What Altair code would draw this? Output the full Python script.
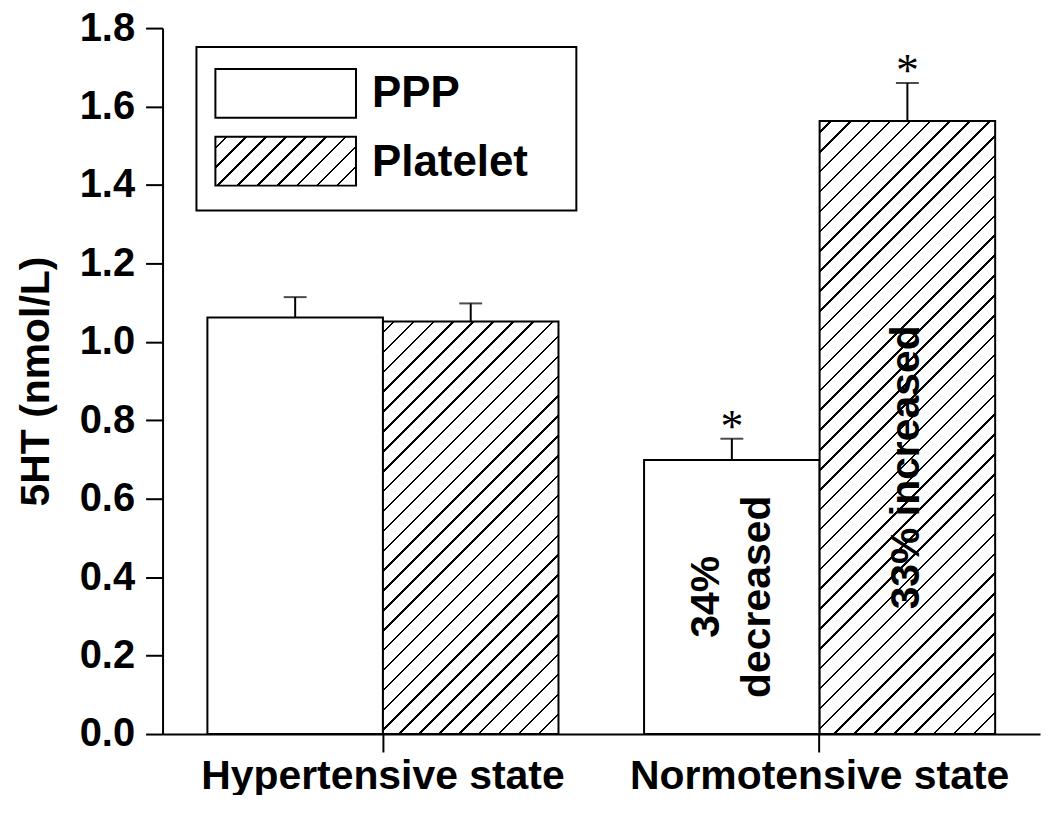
import math
import altair as alt
import pandas as pd

# ---- data ----
categories = ["Hypertensive state", "Normotensive state"]
series_names = ["PPP", "Platelet"]
ppp_mean = [1.062, 0.699]
ppp_err = [0.052, 0.054]
plat_mean = [1.052, 1.563]
plat_err = [0.046, 0.097]
ppp_star = ["", "*"]
plat_star = ["", "*"]
y_ticks = [0.0, 0.1, 0.2, 0.3, 0.4, 0.5, 0.6, 0.7, 0.8, 0.9, 1.0,
           1.1, 1.2, 1.3, 1.4, 1.5, 1.6, 1.7, 1.8]
annot_text = ["34%\ndecreased", "33% increased"]
annot_series = ["PPP", "Platelet"]
annot_cat = ["Normotensive state", "Normotensive state"]
annot_y = [0.35, 0.68]
annot_shift = [-25, 0]

rows = []
for i, c in enumerate(categories):
    rows.append({"cat": c, "series": "PPP", "mean": ppp_mean[i],
                 "upper": ppp_mean[i] + ppp_err[i], "star": ppp_star[i]})
    rows.append({"cat": c, "series": "Platelet", "mean": plat_mean[i],
                 "upper": plat_mean[i] + plat_err[i], "star": plat_star[i]})
df = pd.DataFrame(rows)

# ---- layout / style ----
W, H = 880, 708
Y_MAX = 1.8
PAD_IN, PAD_OUT = 0.196, 0.1027
step = W / (2 - PAD_IN + 2 * PAD_OUT)
BAR_W = step * (1 - PAD_IN) / 2
FONT = "Liberation Sans"


def hatch(w, h, spacing=14.1, lw=1.8):
    """Diagonal '/' hatching as a hard-stop linear gradient (bbox units)."""
    L = (w + h) / math.sqrt(2)
    k = (w + h) / (w * w + h * h)
    p = spacing / L
    d = lw / L
    stops = [alt.GradientStop(offset=0, color="white")]
    a = p * 0.5
    while a < 1:
        e = min(a + d, 1)
        stops.append(alt.GradientStop(offset=round(a, 6), color="white"))
        stops.append(alt.GradientStop(offset=round(a, 6), color="black"))
        stops.append(alt.GradientStop(offset=round(e, 6), color="black"))
        stops.append(alt.GradientStop(offset=round(e, 6), color="white"))
        a += p
    stops.append(alt.GradientStop(offset=1, color="white"))
    return alt.LinearGradient(gradient="linear", stops=stops,
                              x1=0, y1=0, x2=w * k, y2=h * k)


x_enc = alt.X("cat:N", sort=categories, title=None,
              scale=alt.Scale(paddingInner=PAD_IN, paddingOuter=PAD_OUT),
              axis=alt.Axis(labelAngle=0, labelFontSize=41, labelPadding=5,
                            labelLimit=0, tickSize=18))
xo_enc = alt.XOffset("series:N", sort=series_names,
                     scale=alt.Scale(paddingInner=0, paddingOuter=0))
major = "round(datum.value*10) % 2 == 0"
y_axis = alt.Axis(values=y_ticks, title="5HT (nmol/L)",
                  tickSize={"condition": {"test": major, "value": 17}, "value": 8},
                  labelExpr=f"{major} ? format(datum.value, '.1f') : ''",
                  labelFontSize=40, labelPadding=11, titleFontSize=41,
                  titlePadding=22, grid=False)
y_scale = alt.Scale(domain=[0, Y_MAX], nice=False)

base = alt.Chart(df).encode(x=x_enc, xOffset=xo_enc)

ppp_bars = base.transform_filter("datum.series == 'PPP'").mark_bar(
    fill="white", stroke="black", strokeWidth=2
).encode(y=alt.Y("mean:Q", scale=y_scale, axis=y_axis))

plat_layers = []
for i, c in enumerate(categories):
    h = plat_mean[i] / Y_MAX * H
    plat_layers.append(
        base.transform_filter(
            f"datum.series == 'Platelet' && datum.cat == '{c}'"
        ).mark_bar(fill=hatch(BAR_W, h), stroke="black", strokeWidth=2)
        .encode(y=alt.Y("mean:Q", scale=y_scale, axis=y_axis))
    )

err_rule = base.mark_rule(color="black", strokeWidth=2).encode(
    y=alt.Y("mean:Q", scale=y_scale), y2="upper:Q")
err_cap = base.mark_tick(color="black", size=23, thickness=2,
                         orient="horizontal").encode(
    y=alt.Y("upper:Q", scale=y_scale))
stars = base.transform_filter("datum.star != ''").mark_text(
    font="Liberation Serif", fontSize=46, baseline="alphabetic", dy=3,
    color="black"
).encode(y=alt.Y("upper:Q", scale=y_scale), text="star:N")

annot_layers = []
for i in range(len(annot_text)):
    adf = pd.DataFrame({"cat": [annot_cat[i]], "series": [annot_series[i]],
                        "label": [annot_text[i]], "ypos": [annot_y[i]]})
    annot_layers.append(
        alt.Chart(adf).mark_text(
            angle=270, font=FONT, fontSize=41, fontWeight="bold", lineBreak="\n",
            lineHeight=51, align="center", baseline="middle", color="black",
            dy=annot_shift[i]
        ).encode(x=alt.X("cat:N", sort=categories),
                 xOffset=alt.XOffset("series:N", sort=series_names),
                 y=alt.Y("ypos:Q", scale=y_scale), text="label:N")
    )

# ---- legend (drawn box) ----
one = alt.Data(values=[{"k": 0}])
leg_box = alt.Chart(one).mark_rect(fill="white", stroke="black", strokeWidth=2).encode(
    x=alt.value(34), x2=alt.value(415), y=alt.value(19), y2=alt.value(183))
leg_ppp = alt.Chart(one).mark_rect(fill="white", stroke="black", strokeWidth=2).encode(
    x=alt.value(53), x2=alt.value(194), y=alt.value(41), y2=alt.value(90))
leg_plat = alt.Chart(one).mark_rect(fill=hatch(141, 49), stroke="black", strokeWidth=2).encode(
    x=alt.value(53), x2=alt.value(194), y=alt.value(109), y2=alt.value(158))
leg_t1 = alt.Chart(one).mark_text(text=series_names[0], font=FONT, fontSize=44,
                                  fontWeight="bold", align="left", baseline="middle",
                                  color="black").encode(x=alt.value(210), y=alt.value(66))
leg_t2 = alt.Chart(one).mark_text(text=series_names[1], font=FONT, fontSize=44,
                                  fontWeight="bold", align="left", baseline="middle",
                                  color="black").encode(x=alt.value(210), y=alt.value(135))

chart = alt.layer(
    ppp_bars, *plat_layers, err_rule, err_cap, stars, *annot_layers,
    leg_box, leg_ppp, leg_plat, leg_t1, leg_t2
).properties(
    width=W, height=H,
    autosize=alt.AutoSizeParams(type="none"),
    padding={"left": 155, "top": 19, "right": 2, "bottom": 60},
).configure_view(stroke=None).configure_axis(
    labelFont=FONT, labelFontWeight="bold", labelColor="black",
    titleFont=FONT, titleFontWeight="bold", titleColor="black",
    domainColor="black", domainWidth=2, tickColor="black", tickWidth=2,
)

chart.save("out.html", embed_options={"renderer": "svg", "actions": False})
